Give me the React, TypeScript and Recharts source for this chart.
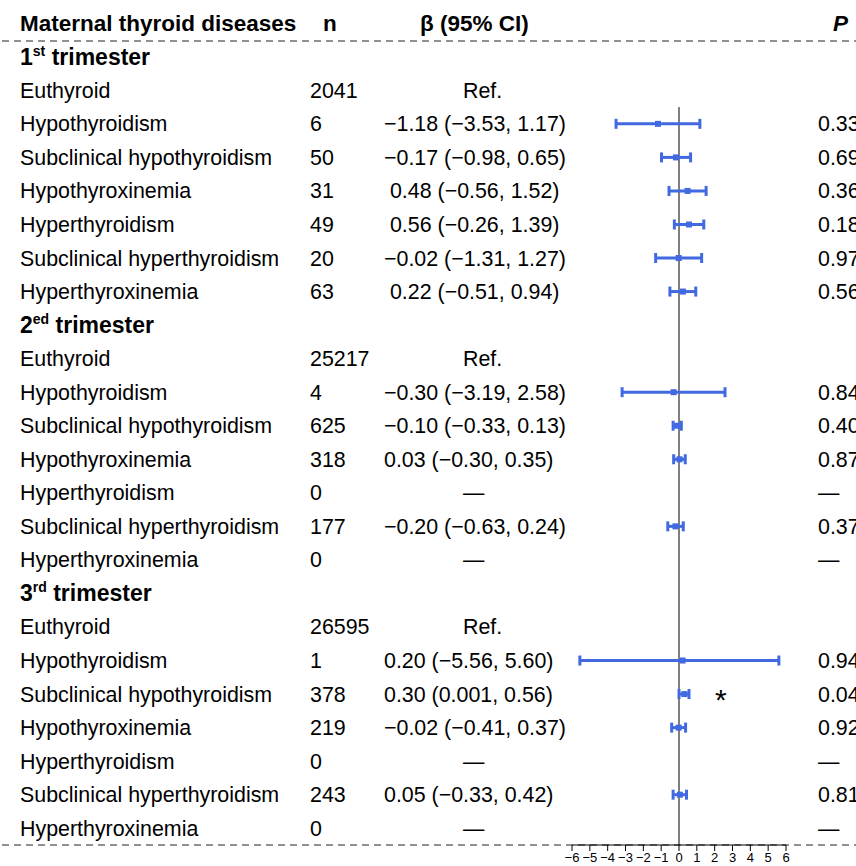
import { ScatterChart, Scatter, XAxis, YAxis, ErrorBar, ReferenceLine } from "recharts";

const BLUE = "#4169e1";
const FONT = "'Liberation Sans', Arial, sans-serif";
const ROW_FONT = 21.4;
const HEAD_FONT = 22.5;

const trimesterNumbers = ["1", "2", "3"];
const trimesterSuffixes = ["st", "ed", "rd"];
const diseases = [
  "Euthyroid",
  "Hypothyroidism",
  "Subclinical hypothyroidism",
  "Hypothyroxinemia",
  "Hyperthyroidism",
  "Subclinical hyperthyroidism",
  "Hyperthyroxinemia",
];

const counts = [
  [2041, 6, 50, 31, 49, 20, 63],
  [25217, 4, 625, 318, 0, 177, 0],
  [26595, 1, 378, 219, 0, 243, 0],
];
const betas = [
  [null, -1.18, -0.17, 0.48, 0.56, -0.02, 0.22],
  [null, -0.3, -0.1, 0.03, null, -0.2, null],
  [null, 0.2, 0.3, -0.02, null, 0.05, null],
];
const lowers = [
  [null, -3.53, -0.98, -0.56, -0.26, -1.31, -0.51],
  [null, -3.19, -0.33, -0.3, null, -0.63, null],
  [null, -5.56, 0.001, -0.41, null, -0.33, null],
];
const uppers = [
  [null, 1.17, 0.65, 1.52, 1.39, 1.27, 0.94],
  [null, 2.58, 0.13, 0.35, null, 0.24, null],
  [null, 5.6, 0.56, 0.37, null, 0.42, null],
];
const pValues = [
  [null, "0.33", "0.69", "0.36", "0.18", "0.97", "0.56"],
  [null, "0.84", "0.40", "0.87", "—", "0.37", "—"],
  [null, "0.94", "0.04", "0.92", "—", "0.81", "—"],
];
const xTicks = [-6, -5, -4, -3, -2, -1, 0, 1, 2, 3, 4, 5, 6];

type Row = {
  kind: "group" | "item";
  g: number;
  name?: string;
  n?: number;
  beta?: number | null;
  lo?: number | null;
  hi?: number | null;
  p?: string | null;
};

const rows: Row[] = [];
trimesterNumbers.forEach((_, g) => {
  rows.push({ kind: "group", g });
  diseases.forEach((name, k) => {
    rows.push({
      kind: "item",
      g,
      name,
      n: counts[g][k],
      beta: betas[g][k],
      lo: lowers[g][k],
      hi: uppers[g][k],
      p: pValues[g][k],
    });
  });
});

const points = rows
  .map((r, i) =>
    r.beta != null && r.lo != null && r.hi != null
      ? { x: r.beta, y: i, err: [r.beta - r.lo, r.hi - r.beta] }
      : null
  )
  .filter(Boolean);

const fmt = (v: number) => {
  const a = Math.abs(v);
  const s = a > 0 && a < 0.01 ? String(a) : a.toFixed(2);
  return (v < 0 ? "\u2212" : "") + s;
};

function betaText(r: Row) {
  if (r.beta == null) return r.n === 0 ? "—" : "Ref.";
  // first-trimester positive estimates carry a leading space in the source table
  const pad = r.g === 0 && r.beta >= 0 ? " " : "";
  return `${pad}${fmt(r.beta)} (${fmt(r.lo as number)}, ${fmt(r.hi as number)})`;
}

const txt = { fontFamily: FONT, fill: "#000" };

function RowTick(props: any) {
  const { y, payload } = props;
  const r = rows[payload.value];
  if (!r) return null;
  if (r.kind === "group") {
    return (
      <text x={20} y={y} dy="0.35em" fontSize={23} fontWeight="bold" {...txt}>
        <tspan>{trimesterNumbers[r.g]}</tspan>
        <tspan fontSize={14} dy={-9}>
          {trimesterSuffixes[r.g]}
        </tspan>
        <tspan dy={9}>{" trimester"}</tspan>
      </text>
    );
  }
  const b = betaText(r);
  const isRef = r.beta == null;
  const sig = r.p != null && parseFloat(r.p) < 0.05;
  return (
    <g>
      <text x={20} y={y} dy="0.35em" fontSize={ROW_FONT} {...txt}>
        {r.name}
      </text>
      <text x={310} y={y} dy="0.35em" fontSize={ROW_FONT} {...txt}>
        {r.n}
      </text>
      <text
        x={isRef ? 463 : 384}
        y={y}
        dy="0.35em"
        fontSize={ROW_FONT}
        style={{ whiteSpace: "pre" }}
        {...txt}
      >
        {b}
      </text>
      {r.p != null && (
        <text x={818} y={y} dy="0.35em" fontSize={ROW_FONT} {...txt}>
          {r.p}
        </text>
      )}
      {sig && (
        <text x={715} y={y} dy="0.52em" fontSize={30} {...txt}>
          *
        </text>
      )}
    </g>
  );
}

function TopLine(props: any) {
  const y = props.y1;
  const hy = y - 16.5;
  return (
    <g>
      <line x1={2} x2={856} y1={y + 1} y2={y + 1} stroke="#222" strokeWidth={1} strokeDasharray="7 5" />
      <text x={20} y={hy} dy="0.35em" fontSize={HEAD_FONT} fontWeight="bold" {...txt}>
        Maternal thyroid diseases
      </text>
      <text x={323} y={hy} dy="0.35em" fontSize={HEAD_FONT} fontWeight="bold" {...txt}>
        n
      </text>
      <text x={420} y={hy} dy="0.35em" fontSize={HEAD_FONT} fontWeight="bold" {...txt}>
        β (95% CI)
      </text>
      <text x={833} y={hy} dy="0.35em" fontSize={HEAD_FONT} fontWeight="bold" fontStyle="italic" {...txt}>
        P
      </text>
    </g>
  );
}

function BottomLine(props: any) {
  const y = props.y1;
  return <line x1={2} x2={856} y1={y} y2={y} stroke="#222" strokeWidth={1} strokeDasharray="7 5" />;
}

const Marker = (props: any) => (
  <rect x={props.cx - 3} y={props.cy - 3} width={6} height={6} fill={BLUE} />
);

export default function App() {
  return (
    <div style={{ position: "absolute", left: 0, top: 0, width: 856, height: 866, background: "#fff" }}>
      <ScatterChart width={856} height={866} margin={{ top: 40, right: 70, bottom: 0, left: 0 }}>
        <XAxis
          type="number"
          dataKey="x"
          domain={[-6, 6]}
          ticks={xTicks}
          interval={0}
          height={21}
          tickSize={6}
          tickMargin={2}
          stroke="#000"
          tick={{ fontSize: 13, fill: "#000", fontFamily: FONT }}
          tickFormatter={(v: number) => String(v).replace("-", "\u2212")}
        />
        <YAxis
          type="number"
          dataKey="y"
          domain={[-0.5, 23.5]}
          reversed
          ticks={rows.map((_, i) => i)}
          interval={0}
          width={572}
          axisLine={false}
          tickLine={false}
          tick={<RowTick />}
        />
        <ReferenceLine y={-0.5} shape={<TopLine />} ifOverflow="visible" />
        <ReferenceLine y={23.5} shape={<BottomLine />} ifOverflow="visible" />
        <ReferenceLine
          segment={[
            { x: 0, y: 1.5 },
            { x: 0, y: 23.5 },
          ]}
          stroke="#000"
          strokeWidth={1}
        />
        <Scatter data={points as any[]} shape={<Marker />} isAnimationActive={false}>
          <ErrorBar dataKey="err" direction="x" width={5} strokeWidth={3} stroke={BLUE} />
        </Scatter>
      </ScatterChart>
    </div>
  );
}
